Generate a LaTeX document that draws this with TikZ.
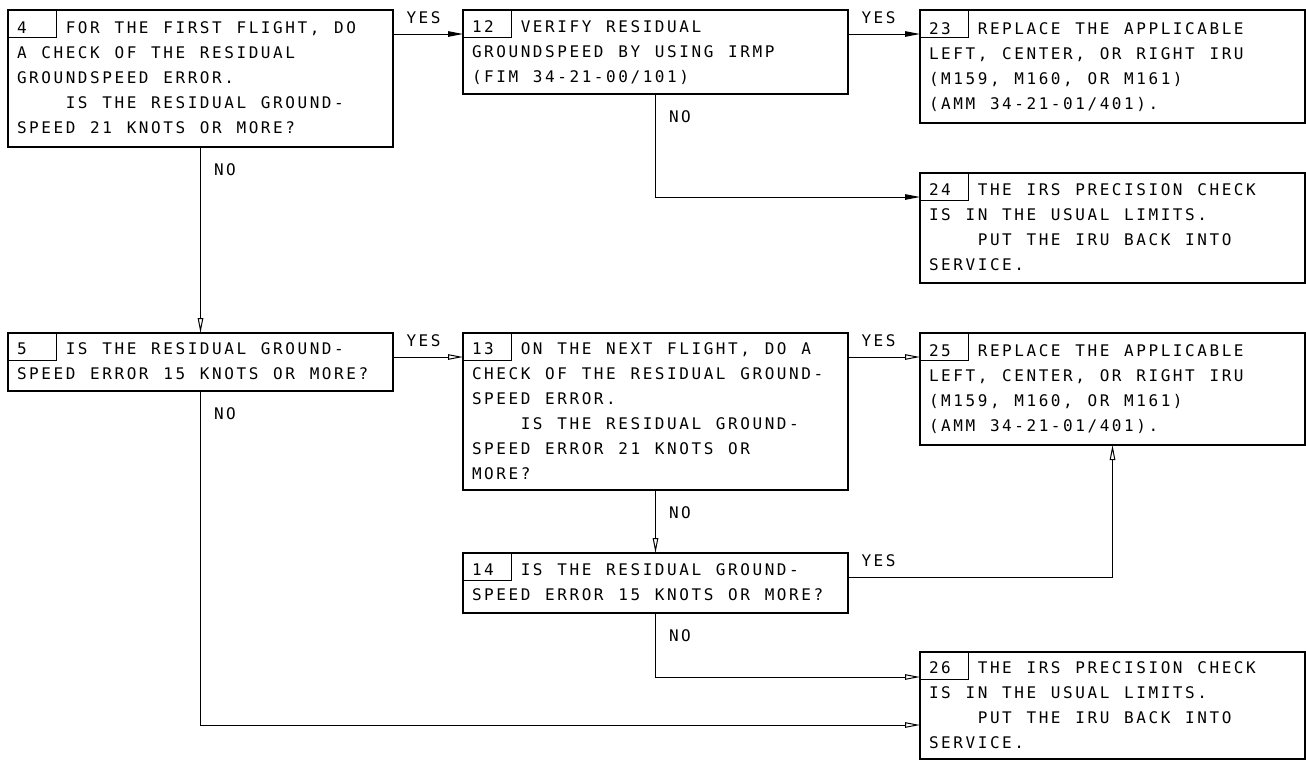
\documentclass[tikz,border=0pt]{standalone}
\usepackage{fontspec}
\usepackage{tikz}
\usetikzlibrary{arrows.meta,positioning,calc}
\newfontfamily\flowfont{DejaVu Sans Mono}
\ExplSyntaxOn
\NewDocumentCommand\mono{m}{\str_map_inline:nn{#1}{\makebox[12.2pt][l]{##1}}}
\ExplSyntaxOff
\newcommand{\boxno}[1]{\makebox[48.8pt][l]{\mono{#1}}}
\newcommand{\ind}{\hspace*{48.8pt}}

\begin{document}
\begin{tikzpicture}[x=1pt,y=-1pt,font=\flowfont\fontsize{16}{25}\selectfont,
  stepbox/.style={draw,line width=2.6pt,outer sep=0pt,inner xsep=9pt,inner ysep=0pt,align=left,
    text width=367pt,minimum width=385pt,minimum height=#1,anchor=north west,
    execute at begin node=\strut,execute at end node=\strut},
  arfill/.style={line width=1pt,-{Triangle[length=15pt,width=5.5pt]}},
  aropen/.style={line width=1pt,-{Triangle[open,length=15pt,width=5.5pt]}},
  yeslbl/.style={anchor=base west,inner sep=0pt,xshift=13pt,yshift=11pt},
  nolbl/.style={anchor=base west,inner sep=0pt,xshift=13pt,yshift=-28pt}]
  \useasboundingbox (0,0) rectangle (1306,761);
  \node[stepbox=137pt] (b4) at (8,10) {\boxno{4}\mono{FOR THE FIRST FLIGHT, DO}\\\mono{A CHECK OF THE RESIDUAL}\\\mono{GROUNDSPEED ERROR.}\\\ind\mono{IS THE RESIDUAL GROUND-}\\\mono{SPEED 21 KNOTS OR MORE?}};
  \node[stepbox=84pt,right=70pt of b4.north east,anchor=north west] (b12) {\boxno{12}\mono{VERIFY RESIDUAL}\\\mono{GROUNDSPEED BY USING IRMP}\\\mono{(FIM 34-21-00/101)}};
  \node[stepbox=113pt,right=72pt of b12.north east,anchor=north west] (b23) {\boxno{23}\mono{REPLACE THE APPLICABLE}\\\mono{LEFT, CENTER, OR RIGHT IRU}\\\mono{(M159, M160, OR M161)}\\\mono{(AMM 34-21-01/401).}};
  \node[stepbox=110pt,below=50pt of b23.south west,anchor=north west] (b24) {\boxno{24}\mono{THE IRS PRECISION CHECK}\\\mono{IS IN THE USUAL LIMITS.}\\\ind\mono{PUT THE IRU BACK INTO}\\\mono{SERVICE.}};
  \node[stepbox=58pt,below=186pt of b4.south west,anchor=north west] (b5) {\boxno{5}\mono{IS THE RESIDUAL GROUND-}\\\mono{SPEED ERROR 15 KNOTS OR MORE?}};
  \node[stepbox=157pt,right=70pt of b5.north east,anchor=north west] (b13) {\boxno{13}\mono{ON THE NEXT FLIGHT, DO A}\\\mono{CHECK OF THE RESIDUAL GROUND-}\\\mono{SPEED ERROR.}\\\ind\mono{IS THE RESIDUAL GROUND-}\\\mono{SPEED ERROR 21 KNOTS OR}\\\mono{MORE?}};
  \node[stepbox=112pt,right=72pt of b13.north east,anchor=north west] (b25) {\boxno{25}\mono{REPLACE THE APPLICABLE}\\\mono{LEFT, CENTER, OR RIGHT IRU}\\\mono{(M159, M160, OR M161)}\\\mono{(AMM 34-21-01/401).}};
  \node[stepbox=60pt,below=63pt of b13.south west,anchor=north west] (b14) {\boxno{14}\mono{IS THE RESIDUAL GROUND-}\\\mono{SPEED ERROR 15 KNOTS OR MORE?}};
  \node[stepbox=107pt,below=207pt of b25.south west,anchor=north west] (b26) {\boxno{26}\mono{THE IRS PRECISION CHECK}\\\mono{IS IN THE USUAL LIMITS.}\\\ind\mono{PUT THE IRU BACK INTO}\\\mono{SERVICE.}};
  \foreach \b in {b4,b12,b23,b24,b5,b13,b25,b14,b26}
    \draw[line width=1pt] (\b.north west) rectangle ++(48,27);
  \draw[arfill] ($(b4.north east)+(0,24)$) coordinate (y1) -- node[yeslbl,at start]{\mono{YES}} (b12.west |- y1);
  \draw[arfill] ($(b12.north east)+(0,24)$) coordinate (y2) -- node[yeslbl,at start]{\mono{YES}} (b23.west |- y2);
  \draw[arfill] (b12.south) |- node[nolbl,at start]{\mono{NO}} ($(b24.north west)+(0,24)$);
  \draw[aropen] (b4.south) -- node[nolbl,at start]{\mono{NO}} (b5.north);
  \draw[aropen] ($(b5.north east)+(0,24)$) coordinate (y3) -- node[yeslbl,at start]{\mono{YES}} (b13.west |- y3);
  \draw[aropen] ($(b13.north east)+(0,24)$) coordinate (y4) -- node[yeslbl,at start]{\mono{YES}} (b25.west |- y4);
  \draw[aropen] (b13.south) -- node[nolbl,at start]{\mono{NO}} (b14.north);
  \draw[aropen] ($(b14.north east)+(0,24)$) -| node[yeslbl,at start]{\mono{YES}} (b25.south);
  \draw[aropen] (b14.south) |- node[nolbl,at start]{\mono{NO}} ($(b26.north west)+(0,25)$);
  \draw[aropen] (b5.south) |- node[nolbl,at start]{\mono{NO}} ($(b26.north west)+(0,73)$);
\end{tikzpicture}
\end{document}
